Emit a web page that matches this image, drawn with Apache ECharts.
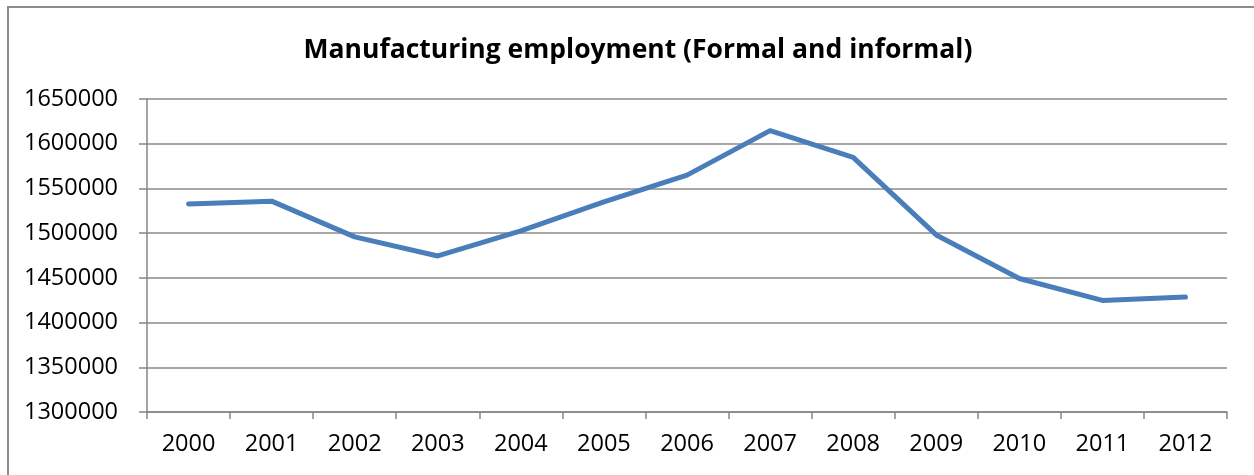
<!DOCTYPE html>
<html>
<head>
<meta charset="utf-8">
<script src="https://cdn.jsdelivr.net/npm/echarts@6/dist/echarts.min.js"></script>
<style>
  html, body { margin: 0; padding: 0; background: #ffffff; }
  #chart { width: 1254px; height: 475px; }
</style>
</head>
<body>
<div id="chart"></div>
<script>
// Manufacturing employment, formal and informal, by year
const years = ['2000', '2001', '2002', '2003', '2004', '2005', '2006',
               '2007', '2008', '2009', '2010', '2011', '2012'];
const employment = [1532700, 1535800, 1495800, 1474500, 1502500, 1535000, 1564900,
                    1614600, 1584700, 1498000, 1449300, 1424800, 1428500];
const yMin = 1300000;
const yMax = 1650000;
const yStep = 50000;

const axisGrey = '#868686';
const labelFont = '"Open Sans", "Noto Sans", sans-serif';

const chart = echarts.init(document.getElementById('chart'), null, { renderer: 'canvas' });

chart.setOption({
  backgroundColor: '#ffffff',
  animation: false,
  title: {
    text: 'Manufacturing employment (Formal and informal)',
    left: 633,
    top: 32,
    textAlign: 'center',
    textStyle: {
      fontFamily: labelFont,
      fontWeight: 'bold',
      fontSize: 26.5,
      color: '#000000'
    }
  },
  graphic: [{
    type: 'rect',
    shape: { x: 8, y: 7, width: 1300, height: 520 },
    style: { fill: 'none', stroke: '#8c8c8c', lineWidth: 2 },
    silent: true,
    z: -1
  }],
  grid: {
    left: 147,
    right: 27,
    top: 99,
    bottom: 63
  },
  xAxis: {
    type: 'category',
    data: years,
    boundaryGap: true,
    axisLine: { show: true, lineStyle: { color: axisGrey, width: 1.5 } },
    axisTick: { show: true, length: 7, lineStyle: { color: axisGrey, width: 1.5 } },
    axisLabel: {
      margin: 20,
      fontFamily: labelFont,
      fontSize: 23.5,
      color: '#000000'
    },
    splitLine: { show: false }
  },
  yAxis: {
    type: 'value',
    min: yMin,
    max: yMax,
    interval: yStep,
    axisLine: { show: true, lineStyle: { color: axisGrey, width: 1.5 } },
    axisTick: { show: true, length: 8, lineStyle: { color: axisGrey, width: 1.5 } },
    axisLabel: {
      margin: 29,
      fontFamily: labelFont,
      fontSize: 23.5,
      color: '#000000',
      formatter: (v) => String(v)
    },
    splitLine: { show: true, lineStyle: { color: '#8a8a8a', width: 1.5 } }
  },
  series: [{
    type: 'line',
    data: employment,
    showSymbol: false,
    symbol: 'none',
    lineStyle: { color: '#4a7ebb', width: 5, cap: 'round', join: 'round' },
    itemStyle: { color: '#4a7ebb' }
  }]
});
</script>
</body>
</html>
